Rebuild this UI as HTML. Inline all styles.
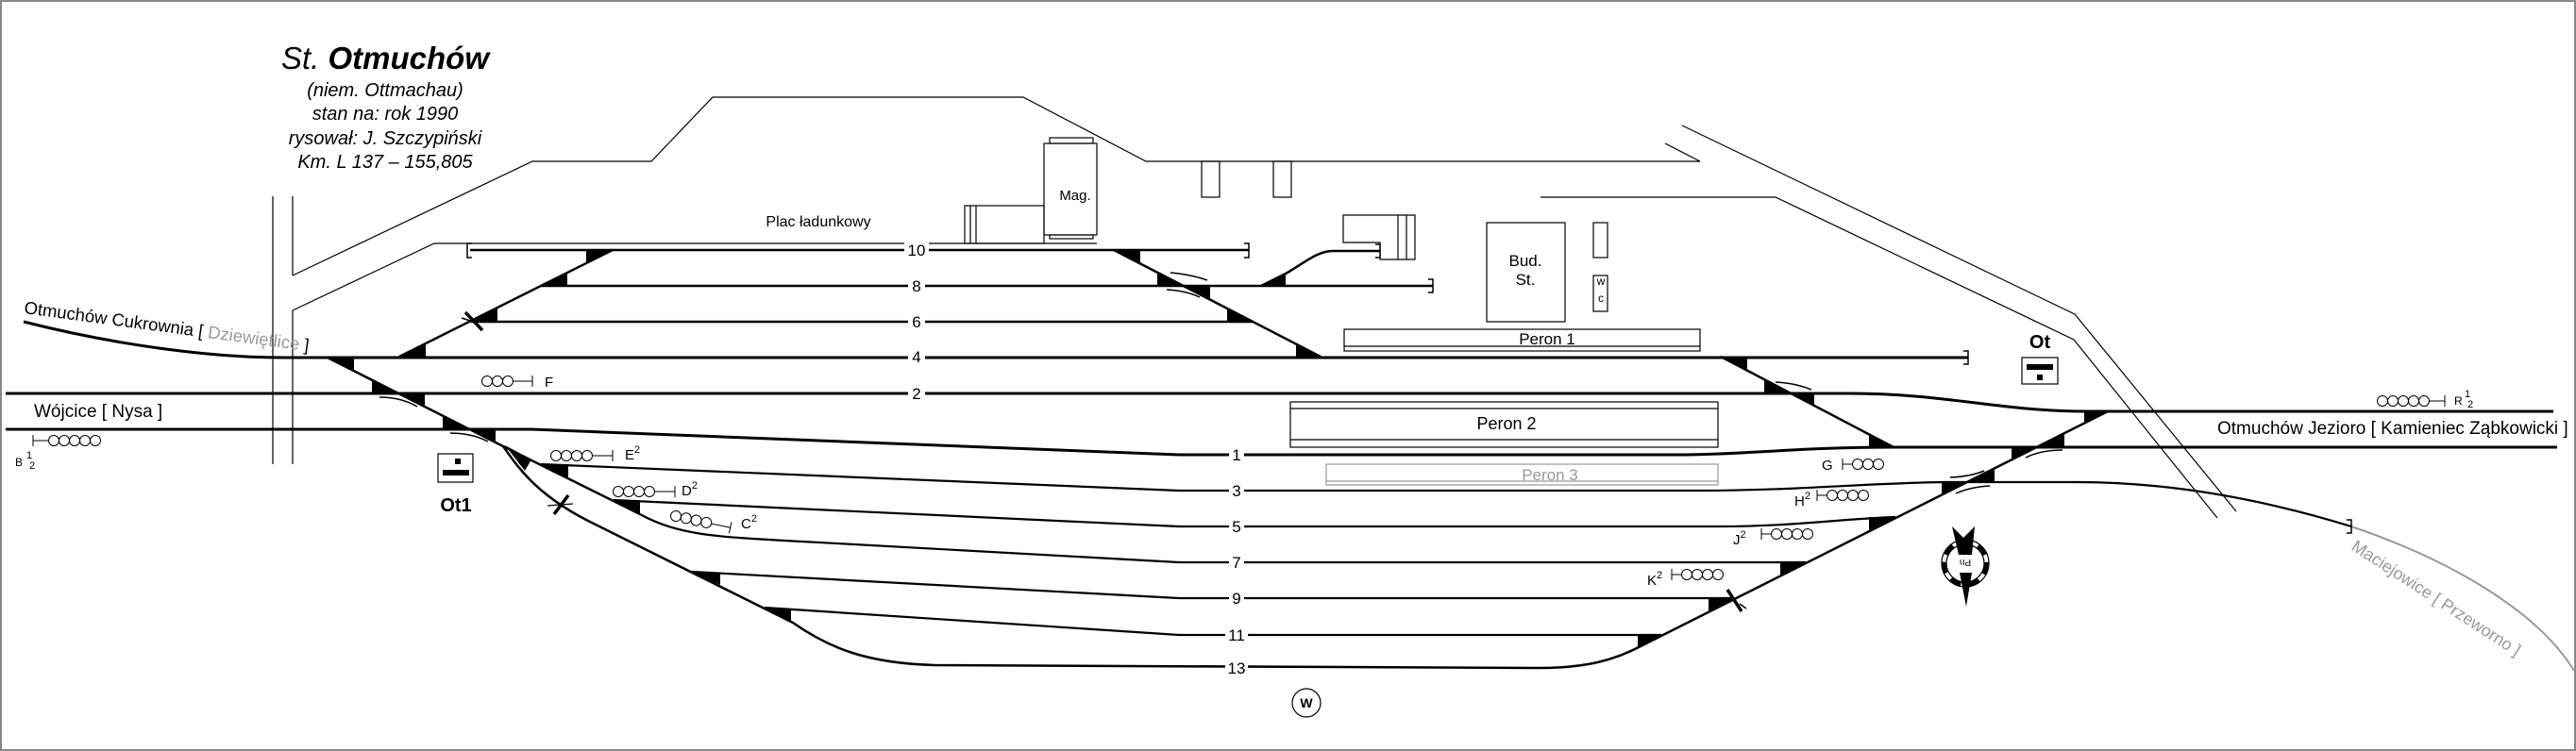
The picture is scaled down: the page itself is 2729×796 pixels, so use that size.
<!DOCTYPE html>
<html><head><meta charset="utf-8"><style>
html,body{margin:0;padding:0;background:#fff;}
svg{display:block;}
text{font-family:"Liberation Sans",sans-serif;}
</style></head><body>
<svg width="2729" height="796" viewBox="0 0 2729 796" xmlns="http://www.w3.org/2000/svg">
<rect x="1" y="1" width="2727" height="794" fill="#fff" stroke="#888" stroke-width="2"/>

<!-- title -->
<g font-style="italic" text-anchor="middle" fill="#000">
<text x="408" y="73" font-size="33">St. <tspan font-weight="bold">Otmuchów</tspan></text>
<text x="408" y="102" font-size="20">(niem. Ottmachau)</text>
<text x="408" y="127" font-size="20">stan na: rok 1990</text>
<text x="408" y="153" font-size="20">rysował: J. Szczypiński</text>
<text x="408" y="178" font-size="20">Km. L 137 – 155,805</text>
</g>

<!-- thin outlines -->
<g fill="none" stroke="#000" stroke-width="1.2">
<polyline points="310,292 564,171 690,171 755,103 1084,103 1214,171 1801,171 1764,152"/>
<polyline points="310,329 460,258 1162,258"/>
<line x1="289" y1="208" x2="289" y2="492"/>
<line x1="310" y1="208" x2="310" y2="292"/>
<line x1="310" y1="329" x2="310" y2="492"/>
<polyline points="1782,133 2198,333 2369,542"/>
<polyline points="1632,209 1881,209 2197,360 2349,549"/>
<!-- Mag -->
<rect x="1106" y="152" width="56" height="97"/>
<rect x="1112" y="146" width="46" height="6"/>
<rect x="1112" y="249" width="46" height="4"/>
<rect x="1022" y="218" width="84" height="40"/>
<line x1="1028" y1="218" x2="1028" y2="258"/>
<line x1="1034" y1="218" x2="1034" y2="258"/>
<rect x="1273" y="171" width="19" height="38"/>
<rect x="1349" y="171" width="19" height="38"/>
<polygon points="1423,228 1499,228 1499,275 1462,275 1462,257 1423,257"/>
<line x1="1481" y1="228" x2="1481" y2="275"/>
<line x1="1490" y1="228" x2="1490" y2="275"/>
<rect x="1575" y="236" width="83" height="105"/>
<rect x="1688" y="236" width="15" height="37"/>
<rect x="1688" y="292" width="15" height="38"/>
<!-- platforms -->
<rect x="1424" y="349" width="377" height="23"/>
<line x1="1424" y1="367" x2="1801" y2="367"/>
<rect x="1367" y="426" width="453" height="48"/>
<line x1="1367" y1="433" x2="1820" y2="433"/>
<line x1="1367" y1="466" x2="1820" y2="466"/>
</g>
<g fill="none" stroke="#999" stroke-width="1.2">
<rect x="1405" y="492" width="415" height="22"/>
<line x1="1405" y1="510" x2="1820" y2="510"/>
</g>

<!-- tracks -->
<g fill="none" stroke="#000" stroke-width="3">
<path d="M25,341 C120,365 220,379 300,379 L2085,379"/>
<path d="M6,417 L1960,417 C2060,417 2120,436 2210,436 L2705,436"/>
<path d="M6,455 L563,455 L1249,482 L1780,482 C1850,482 1900,474 2006,474 L2709,474" />
<line x1="498" y1="265" x2="1323" y2="265" stroke-width="2.5"/>
<line x1="573" y1="303" x2="1518" y2="303" stroke-width="2.5"/>
<line x1="499" y1="341" x2="1327" y2="341" stroke-width="2.5"/>
<line x1="423" y1="378" x2="649" y2="265" stroke-width="2.5"/>
<line x1="347" y1="379" x2="533" y2="473" stroke-width="2.5"/>
<line x1="533" y1="473" x2="678" y2="545" stroke-width="2.5"/>
<path d="M533,473 C550,497 570,527 633,557 L840,660 C880,688 920,703 990,705 L1630,708 C1680,708 1710,700 1740,684 L2233,436" stroke-width="2.5"/>
<path d="M573,492 L1249,520 L1800,520 C1900,520 1980,512 2060,511 L2200,511 C2300,511 2400,530 2491,558" stroke-width="2.2"/>
<path d="M650,530 L1249,558 L1820,558 C1900,558 1950,550 2008,548" stroke-width="2.2"/>
<path d="M678,545 C720,568 760,569 850,574 L1249,596 L1913,596" stroke-width="2.2"/>
<path d="M733,606 L1249,634 L1837,634" stroke-width="2.2"/>
<path d="M810,644 L1249,673 L1760,673" stroke-width="2.2"/>
<line x1="1180" y1="265" x2="1399" y2="378" stroke-width="2.5"/>
<line x1="1823" y1="378" x2="2006" y2="474" stroke-width="2.5"/>
<path d="M1336,303 L1362,290 C1380,280 1395,266 1412,266 L1462,266" stroke-width="2.5"/>
</g>
<path d="M2491,558 C2600,595 2690,650 2727,711" fill="none" stroke="#999" stroke-width="2"/>

<!-- bumpers -->
<g fill="none" stroke="#000" stroke-width="1.5">
<path d="M500,258 L495,258 L495,273 L500,273"/>
<path d="M1318,258 L1323,258 L1323,273 L1318,273"/>
<path d="M1513,296 L1518,296 L1518,310 L1513,310"/>
<path d="M1457,259 L1462,259 L1462,273 L1457,273"/>
<path d="M2080,372 L2085,372 L2085,386 L2080,386"/>
<path d="M2486,551 L2491,551 L2491,565 L2486,565"/>
</g>

<!-- switch triangles -->
<g fill="#000">
<polygon points="423,378 451,378 451,364"/>
<polygon points="499,341 527,341 527,327"/>
<polygon points="573,303 601,303 601,289"/>
<polygon points="621,265 649,265 621,279"/>
<polygon points="347,379 375,379 375,393"/>
<polygon points="394,403 394,417 422,417"/>
<polygon points="422,417 450,417 450,431"/>
<polygon points="469,441 469,455 497,455"/>
<polygon points="497,455 525,455 525,469"/>
<polygon points="535,472 563,487 556,499"/>
<polygon points="573,492 602,492 602,507"/>
<polygon points="650,530 678,530 678,545"/>
<polygon points="733,606 763,607 763,620"/>
<polygon points="810,644 838,645 838,658"/>
<polygon points="1180,265 1208,265 1208,279"/>
<polygon points="1226,289 1226,303 1254,303"/>
<polygon points="1254,303 1282,303 1282,317"/>
<polygon points="1300,327 1300,341 1327,341"/>
<polygon points="1336,303 1362,303 1362,290"/>
<polygon points="1373,365 1373,378 1399,378"/>
<polygon points="1823,378 1851,378 1851,393"/>
<polygon points="1869,403 1869,417 1895,417"/>
<polygon points="1895,417 1922,417 1922,431"/>
<polygon points="1980,460 1980,474 2006,474"/>
<polygon points="1735,673 1760,673 1735,686"/>
<polygon points="1810,634 1837,634 1810,648"/>
<polygon points="1886,596 1913,596 1886,610"/>
<polygon points="1980,548 2008,548 1980,562"/>
<polygon points="2057,511 2082,511 2057,524"/>
<polygon points="2083,511 2113,511 2113,496"/>
<polygon points="2131,474 2157,474 2131,487"/>
<polygon points="2157,474 2187,474 2187,459"/>
<polygon points="2208,436 2233,436 2208,449"/>
</g>

<!-- switch arcs -->
<g fill="none" stroke="#000" stroke-width="1.5">
<path d="M402,421 Q425,421 442,431"/>
<path d="M477,459 Q500,459 517,468"/>
<path d="M1240,289 Q1262,291 1279,297"/>
<path d="M1236,307 Q1256,308 1271,315"/>
<path d="M1881,405 Q1902,406 1919,413"/>
<path d="M2066,506 Q2088,505 2102,499"/>
<path d="M2072,523 Q2088,516 2108,515"/>
<path d="M2146,485 Q2162,477 2185,477"/>
</g>

<!-- derail marks -->
<g stroke="#000" fill="none">
<line x1="493" y1="331" x2="511" y2="350" stroke-width="3.5"/>
<line x1="489" y1="337" x2="498" y2="340" stroke-width="1.5"/>
<line x1="587" y1="545" x2="602" y2="525" stroke-width="3.5"/>
<line x1="580" y1="536" x2="607" y2="534" stroke-width="1.2"/>
<line x1="1830" y1="625" x2="1845" y2="648" stroke-width="3.5"/>
<line x1="1843" y1="640" x2="1850" y2="645" stroke-width="1.5"/>
</g>

<!-- track labels -->
<g font-size="17" text-anchor="middle">
<g fill="#fff"><rect x="958" y="255" width="26" height="20"/><rect x="962" y="293" width="18" height="20"/><rect x="962" y="331" width="18" height="20"/><rect x="962" y="368" width="18" height="20"/><rect x="962" y="407" width="18" height="20"/>
<rect x="1302" y="472" width="16" height="20"/><rect x="1302" y="510" width="16" height="20"/><rect x="1302" y="548" width="16" height="20"/><rect x="1302" y="586" width="16" height="20"/><rect x="1302" y="624" width="16" height="20"/><rect x="1298" y="663" width="24" height="20"/><rect x="1298" y="698" width="24" height="20"/></g>
<text x="971" y="271">10</text><text x="971" y="309">8</text><text x="971" y="347">6</text><text x="971" y="384">4</text><text x="971" y="423">2</text>
<text x="1310" y="488">1</text><text x="1310" y="526">3</text><text x="1310" y="564">5</text><text x="1310" y="602">7</text><text x="1310" y="640">9</text><text x="1310" y="679">11</text><text x="1310" y="714">13</text>
</g>

<!-- labels -->
<text x="867" y="240" font-size="16" text-anchor="middle">Plac ładunkowy</text>
<text x="1139" y="212" font-size="15" text-anchor="middle">Mag.</text>
<text x="1616" y="282" font-size="17" text-anchor="middle">Bud.</text>
<text x="1616" y="302" font-size="17" text-anchor="middle">St.</text>
<text x="1696" y="302" font-size="12" text-anchor="middle">w</text>
<text x="1696" y="320" font-size="12" text-anchor="middle">c</text>
<text x="1639" y="365" font-size="17" text-anchor="middle">Peron 1</text>
<text x="1596" y="455" font-size="18" text-anchor="middle">Peron 2</text>
<text x="1642" y="509" font-size="17" text-anchor="middle" fill="#999">Peron 3</text>
<text x="2161" y="369" font-size="20" font-weight="bold" text-anchor="middle">Ot</text>
<text x="483" y="542" font-size="20" font-weight="bold" text-anchor="middle">Ot1</text>
<text x="36" y="442" font-size="19">Wójcice [ Nysa ]</text>
<text x="2349" y="460" font-size="19">Otmuchów Jezioro [ Kamieniec Ząbkowicki ]</text>
<text x="25" y="332" font-size="18.5" transform="rotate(7.6 25 332)">Otmuchów Cukrownia [ <tspan fill="#999">Dziewiętlice</tspan> ]</text>
<text x="2490" y="582" font-size="18" fill="#999" transform="rotate(33 2490 582)">Maciejowice [ Przeworno ]</text>

<!-- Ot boxes -->
<rect x="2142" y="379" width="38" height="28" fill="#fff" stroke="#000" stroke-width="1.2"/>
<rect x="2147" y="386" width="28" height="6"/>
<rect x="2158" y="397" width="6" height="6"/>
<rect x="464" y="481" width="37" height="30" fill="#fff" stroke="#000" stroke-width="1.2"/>
<rect x="482" y="486" width="6" height="6"/>
<rect x="469" y="498" width="28" height="6"/>

<!-- signals -->
<g fill="none" stroke="#000" stroke-width="1">
<g><circle cx="516" cy="404" r="5.5"/><circle cx="527" cy="404" r="5.5"/><circle cx="538" cy="404" r="5.5"/><line x1="544" y1="404" x2="564" y2="404"/><line x1="564" y1="398" x2="564" y2="410"/></g>
<g><circle cx="589" cy="483" r="5.5"/><circle cx="600" cy="483" r="5.5"/><circle cx="611" cy="483" r="5.5"/><circle cx="622" cy="483" r="5.5"/><line x1="628" y1="483" x2="649" y2="483"/><line x1="649" y1="477" x2="649" y2="489"/></g>
<g><circle cx="655" cy="521" r="5.5"/><circle cx="666" cy="521" r="5.5"/><circle cx="677" cy="521" r="5.5"/><circle cx="688" cy="521" r="5.5"/><line x1="694" y1="521" x2="715" y2="521"/><line x1="715" y1="515" x2="715" y2="527"/></g>
<g transform="rotate(12 716 547)"><circle cx="716" cy="547" r="5.5"/><circle cx="727" cy="547" r="5.5"/><circle cx="738" cy="547" r="5.5"/><circle cx="749" cy="547" r="5.5"/><line x1="755" y1="547" x2="775" y2="547"/><line x1="775" y1="541" x2="775" y2="553"/></g>
<g><line x1="35" y1="461" x2="35" y2="473"/><line x1="35" y1="467" x2="51" y2="467"/><circle cx="57" cy="467" r="5.5"/><circle cx="68" cy="467" r="5.5"/><circle cx="79" cy="467" r="5.5"/><circle cx="90" cy="467" r="5.5"/><circle cx="101" cy="467" r="5.5"/></g>
<g><circle cx="2524" cy="425" r="5.5"/><circle cx="2535" cy="425" r="5.5"/><circle cx="2546" cy="425" r="5.5"/><circle cx="2557" cy="425" r="5.5"/><circle cx="2568" cy="425" r="5.5"/><line x1="2574" y1="425" x2="2590" y2="425"/><line x1="2590" y1="419" x2="2590" y2="431"/></g>
<g><line x1="1952" y1="486" x2="1952" y2="498"/><line x1="1952" y1="492" x2="1962" y2="492"/><circle cx="1968" cy="492" r="5.5"/><circle cx="1979" cy="492" r="5.5"/><circle cx="1990" cy="492" r="5.5"/></g>
<g><line x1="1925" y1="519" x2="1925" y2="531"/><line x1="1925" y1="525" x2="1935" y2="525"/><circle cx="1941" cy="525" r="5.5"/><circle cx="1952" cy="525" r="5.5"/><circle cx="1963" cy="525" r="5.5"/><circle cx="1974" cy="525" r="5.5"/></g>
<g><line x1="1866" y1="560" x2="1866" y2="572"/><line x1="1866" y1="566" x2="1876" y2="566"/><circle cx="1882" cy="566" r="5.5"/><circle cx="1893" cy="566" r="5.5"/><circle cx="1904" cy="566" r="5.5"/><circle cx="1915" cy="566" r="5.5"/></g>
<g><line x1="1771" y1="603" x2="1771" y2="615"/><line x1="1771" y1="609" x2="1781" y2="609"/><circle cx="1787" cy="609" r="5.5"/><circle cx="1798" cy="609" r="5.5"/><circle cx="1809" cy="609" r="5.5"/><circle cx="1820" cy="609" r="5.5"/></g>
</g>
<g font-size="15">
<text x="577" y="410">F</text>
<text x="662" y="487">E<tspan font-size="11" dy="-7">2</tspan></text>
<text x="722" y="525">D<tspan font-size="11" dy="-7">2</tspan></text>
<text x="785" y="560">C<tspan font-size="11" dy="-7">2</tspan></text>
<text x="1930" y="498">G</text>
<text x="1901" y="536">H<tspan font-size="11" dy="-7">2</tspan></text>
<text x="1836" y="577">J<tspan font-size="11" dy="-7">2</tspan></text>
<text x="1745" y="620">K<tspan font-size="11" dy="-7">2</tspan></text>
<text x="16" y="494" font-size="12">B</text>
<text x="28" y="486" font-size="11">1</text><text x="31" y="497" font-size="11">2</text>
<text x="2600" y="429" font-size="12">R</text>
<text x="2611" y="421" font-size="11">1</text><text x="2614" y="432" font-size="11">2</text>
</g>

<!-- W circle -->
<circle cx="1384" cy="745" r="15" fill="#fff" stroke="#000" stroke-width="1.2"/>
<text x="1384" y="750" font-size="14" font-weight="bold" text-anchor="middle">W</text>

<!-- compass -->
<g>
<circle cx="2082" cy="597" r="25" fill="#fff" stroke="#000" stroke-width="1.2"/>
<circle cx="2082" cy="597" r="20" fill="none" stroke="#000" stroke-width="1.2"/>
<circle cx="2082" cy="597" r="22.5" fill="none" stroke="#000" stroke-width="5" stroke-dasharray="12 8"/>
<polygon points="2068,558 2080,570 2092,558 2089,588 2075,588" fill="#000"/>
<polygon points="2076,607 2089,607 2083,643" fill="#000"/>
<text x="2082" y="597" font-size="10" text-anchor="middle" transform="rotate(180 2082 597)" dy="4">Pn</text>
</g>
</svg>
</body></html>
